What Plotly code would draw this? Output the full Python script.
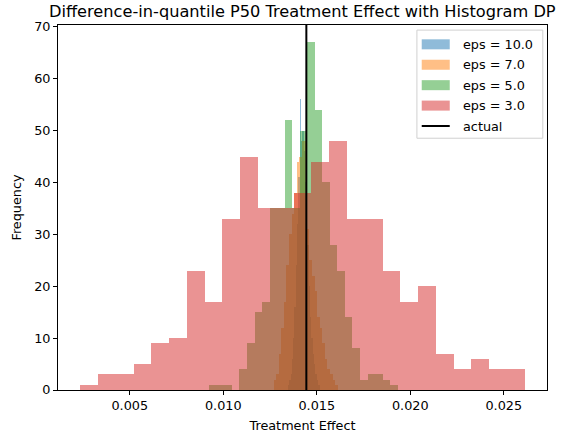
import numpy as np
import plotly.graph_objects as go

# ---------------- data ----------------
title_text = "Difference-in-quantile P50 Treatment Effect with Histogram DP"
series_names = ["eps = 10.0", "eps = 7.0", "eps = 5.0", "eps = 3.0"]
series_colors = ["#1f77b4", "#ff7f0e", "#2ca02c", "#d62728"]

# histogram bin range (min, max) and counts for 25 equal bins
eps10_range = [0.013459, 0.015198]
eps10_counts = [1, 2, 3, 6, 10, 16, 24, 32, 41, 56, 48, 50, 46, 40, 34, 28, 20, 14, 10, 7, 5, 3, 2, 1, 1]
eps7_range = [0.012694, 0.016118]
eps7_counts = [2, 3, 7, 12, 17, 24, 30, 34, 38, 44, 45, 48, 48, 31, 25, 22, 19, 14, 12, 9, 6, 4, 3, 2, 1]
eps5_range = [0.009254, 0.019329]
eps5_counts = [1, 1, 1, 0, 4, 9, 15, 17, 35, 35, 52, 35, 50, 67, 54, 40, 28, 23, 14, 8, 2, 3, 3, 2, 1]
eps3_range = [0.002352, 0.026124]
eps3_counts = [1, 3, 3, 5, 9, 10, 23, 17, 33, 45, 35, 35, 38, 44, 48, 33, 33, 23, 17, 20, 7, 4, 6, 4, 4]
actual_value = 0.014444
actual_label = "actual"

x_ticks = [0.005, 0.010, 0.015, 0.020, 0.025]
x_tick_labels = ["0.005", "0.010", "0.015", "0.020", "0.025"]
y_ticks = [0, 10, 20, 30, 40, 50, 60, 70]
x_title = "Treatment Effect"
y_title = "Frequency"

ranges = [eps10_range, eps7_range, eps5_range, eps3_range]
counts = [eps10_counts, eps7_counts, eps5_counts, eps3_counts]

# ---------------- layout geometry ----------------
W, H = 575, 436
L, T, B = 58, 25.4, 46
all_lo = min(r[0] for r in ranges)
all_hi = max(r[1] for r in ranges)
pad = 0.05 * (all_hi - all_lo)
x_range = [all_lo - pad, all_hi + pad]
y_top = max(max(c) for c in counts) * 1.05
R = 28.3
plot_w = W - L - R
plot_h = H - T - B

FONT = "DejaVu Sans"

def hexrgba(h, a):
    h = h.lstrip("#")
    return "rgba(%d,%d,%d,%s)" % (int(h[0:2], 16), int(h[2:4], 16), int(h[4:6], 16), a)

fig = go.Figure()
for name, col, rng, cnt in zip(series_names, series_colors, ranges, counts):
    n = len(cnt)
    edges = np.linspace(rng[0], rng[1], n + 1)
    centers = 0.5 * (edges[:-1] + edges[1:])
    width = edges[1] - edges[0]
    fig.add_trace(go.Bar(
        x=centers, y=cnt, width=[width] * n, name=name,
        marker=dict(color=hexrgba(col, 0.5), line=dict(width=0)),
        showlegend=False, hoverinfo="skip",
    ))

# actual vertical line
fig.add_shape(type="line", xref="x", yref="y domain", x0=actual_value, x1=actual_value,
              y0=0, y1=1, line=dict(color="black", width=2))

# ---------------- custom matplotlib-like legend ----------------
def px2x(px):
    return (px - L) / plot_w

def px2y(py):
    return (H - B - py) / plot_h

box = dict(x0=416.7, x1=542.5, y0=30.5, y1=138.5)
fig.add_shape(type="rect", xref="paper", yref="paper",
              x0=px2x(box["x0"]), x1=px2x(box["x1"]), y0=px2y(box["y1"]), y1=px2y(box["y0"]),
              line=dict(color="#d0d0d0", width=1), fillcolor="rgba(255,255,255,0.8)", layer="above")
row_y = [44.7 + 20.4 * i for i in range(5)]
labels = series_names + [actual_label]
for i, lab in enumerate(labels):
    cy = row_y[i]
    if i < 4:
        fig.add_shape(type="rect", xref="paper", yref="paper",
                      x0=px2x(421.5), x1=px2x(449.5), y0=px2y(cy + 5), y1=px2y(cy - 5),
                      line=dict(width=0), fillcolor=hexrgba(series_colors[i], 0.5), layer="above")
    else:
        fig.add_shape(type="line", xref="paper", yref="paper",
                      x0=px2x(421.5), x1=px2x(449.5), y0=px2y(cy), y1=px2y(cy),
                      line=dict(color="black", width=2), layer="above")
    fig.add_annotation(xref="paper", yref="paper", x=px2x(460.5), y=px2y(cy),
                       text=lab, showarrow=False, xanchor="left", yanchor="middle",
                       font=dict(family=FONT, size=12.8, color="black"))

# title
fig.add_annotation(xref="paper", yref="paper", x=0.5, y=px2y(12), text=title_text,
                   showarrow=False, xanchor="center", yanchor="middle",
                   font=dict(family=FONT, size=16.2, color="black"))

axis_common = dict(showline=True, linecolor="black", linewidth=1, mirror=True,
                   ticks="outside", ticklen=4, tickwidth=1, tickcolor="black",
                   showgrid=False, zeroline=False, automargin=False,
                   tickfont=dict(family=FONT, size=12.8, color="black"))

fig.update_layout(
    width=W, height=H,
    margin=dict(l=L, r=R, t=T, b=B, pad=0, autoexpand=False),
    barmode="overlay", bargap=0,
    plot_bgcolor="white", paper_bgcolor="white",
    showlegend=False,
    xaxis=dict(range=x_range, tickvals=x_ticks, ticktext=x_tick_labels,
               title=dict(text=x_title, font=dict(family=FONT, size=12.8, color="black"), standoff=8),
               **axis_common),
    yaxis=dict(range=[0, y_top], tickvals=y_ticks,
               title=dict(text=y_title, font=dict(family=FONT, size=12.8, color="black"), standoff=9),
               **axis_common),
)

fig.write_html("out.html")
